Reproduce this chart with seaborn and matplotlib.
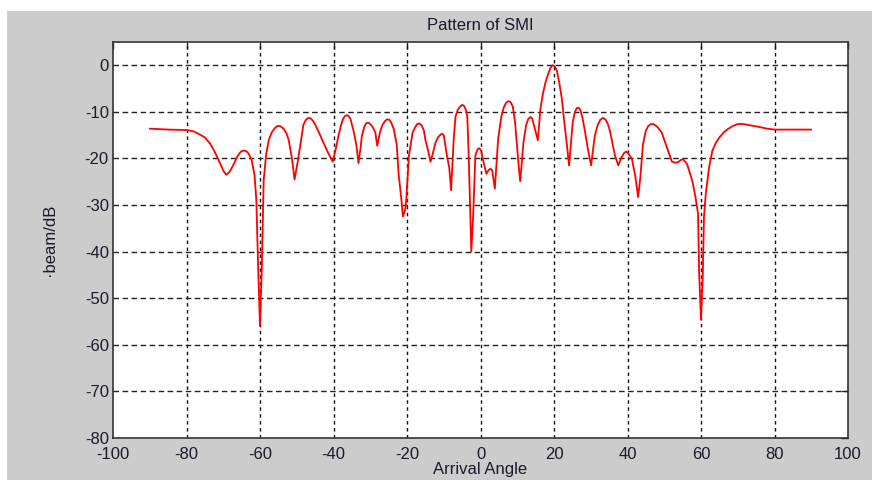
import matplotlib
matplotlib.use("Agg")
import matplotlib.pyplot as plt
import seaborn as sns
import pandas as pd
from matplotlib.patches import Rectangle

# ---- data ----
angles = [
    -90, -85, -80, -78, -76.5, -75, -73.5, -72.5, -71.7, -70.8, -70.0, -69.2, -68.4, -67.8, -67.0,
    -66.3, -65.6, -65.0, -64.3, -63.6, -63.0, -62.3,
    -61.5, -61, -60.5, -60, -59.5, -59, -58.3, -57.6, -56.8, -56.0, -55.2, -54.4, -53.6, -52.8,
    -52.2, -51.3, -50.6,
    -49.8, -49, -48.2, -47.6, -46.9, -46.2, -45.5, -45, -44.1, -42.8, -41.4, -40.2, -39.4, -38.7,
    -38.0, -37.4, -36.9, -36.4, -35.9, -35.4, -34.6, -33.8, -33.2, -32.6, -32.3, -31.7, -31.2,
    -30.6, -30, -29.3, -28.6, -28.1, -27.4, -26.7, -26.0, -25.4, -24.8, -24.3, -23.6, -22.8,
    -22.3, -21.5, -21.1, -20.5, -20.2, -19.5, -18.5, -17.8, -17.2, -16.6, -16.0, -15.4, -15,
    -14.2, -13.6, -13, -12.2, -11.5, -10.9, -10.4, -10, -9.1, -8.5, -8.0, -7.3, -6.8, -6.2, -5.6,
    -5.0, -4.5, -4.0, -3.6, -3.2, -2.5, -2.0, -1.4, -0.8, -0.3, 0.2, 0.6, 1.6, 2.2, 2.7, 3.2,
    3.9, 4.8, 5.7, 6.4, 7.0, 7.6, 8.2, 8.8, 9.4, 10.3, 10.8, 11.7, 12.4, 13.0, 13.6, 14.1, 14.9,
    15.6, 16.3, 17, 17.7, 18.4, 19.0, 19.6, 20.2, 20.8, 21.4, 22.1, 22.8, 23.5, 24.1, 25.1, 25.7,
    26.2, 26.7, 27.2, 27.8, 28.5, 29.2, 30.1, 31.1, 31.9, 32.6, 33.3, 34.0, 34.6, 35.2, 36.6,
    37.5, 38.4, 39.1, 39.7, 40.3, 41.2, 42.1, 42.9, 43.5, 44.2, 45, 45.7, 46.4, 47.0, 47.6,
    48.2, 49.3, 50.7, 52.1, 53.0, 53.8, 54.5, 55.2, 56.2, 57.6, 58.5, 59.2, 59.5, 60, 60.5,
    60.8, 61.3, 62.2, 63.1, 64.0, 65, 66.2, 67.3, 68.5, 70, 71.5, 72.8, 75.6, 78, 80, 90,
]
beam_db = [
    -13.6, -13.8, -13.9, -14.2, -14.8, -15.5, -16.9, -18.3, -19.6, -21.2, -22.6, -23.5, -23.0,
    -22.2, -21.0, -19.8, -18.9, -18.4, -18.3, -18.5, -19.1, -20.3,
    -23.5, -28.9, -43.5, -56.0, -43.5, -24.6, -19.0, -16.0, -14.4, -13.5, -13.0, -13.1, -13.6,
    -14.6, -16.0, -20.0, -24.5,
    -21.0, -17.0, -12.8, -11.8, -11.3, -11.4, -12.0, -12.7, -14.2, -16.5, -18.9, -20.7, -18.0,
    -15.3, -13.0, -11.5, -10.9, -10.7, -10.9, -11.5, -13.9, -17.0, -21.0, -17.5, -15.3, -13.4,
    -12.5, -12.3, -12.6, -13.3, -14.5, -17.3, -14.5, -12.8, -12.0, -11.6, -11.7, -12.3, -13.7,
    -17.0, -23.2, -29.0, -32.5, -31.0, -28.9, -19.6, -14.5, -13.3, -12.6, -12.5, -12.9, -14.0,
    -16.0, -18.5, -20.7, -19.0, -16.5, -15.4, -14.9, -14.7, -15.0, -19.6, -22.0, -26.8, -16.0,
    -11.0, -9.6, -8.9, -8.5, -8.7, -9.5, -11.0, -19.6, -40.0, -32.3, -19.4, -18.0, -17.8, -18.4,
    -20.0, -23.3, -22.5, -22.2, -22.6, -26.5, -15.8, -10.8, -8.9, -8.0, -7.7, -7.9, -8.9, -12.2,
    -20.8, -24.9, -16.5, -12.9, -11.5, -11.1, -11.5, -14.0, -16.1, -9.3, -6.0, -3.6, -1.9, -0.6,
    0.0, -0.2, -1.2, -3.6, -7.0, -12.2, -17.0, -21.5, -12.2, -10.0, -9.2, -9.1, -9.6, -11.5,
    -14.5, -17.9, -21.5, -15.1, -12.8, -11.7, -11.3, -11.6, -12.5, -14.0, -19.4, -21.5, -19.7,
    -18.8, -18.5, -19.0, -20.1, -23.7, -28.3, -24.0, -17.0, -14.0, -13.0, -12.6, -12.6, -12.9,
    -13.3, -14.4, -17.6, -20.7, -20.9, -20.8, -20.3, -20.2, -21.2, -24.7, -28.3, -31.9, -44.7,
    -54.6, -44.7, -32.6, -27.6, -21.9, -18.3, -16.7, -15.5, -14.4, -13.7, -13.1, -12.6, -12.6,
    -12.8, -13.2, -13.6, -13.8, -13.8,
]
x_ticks = [-100, -80, -60, -40, -20, 0, 20, 40, 60, 80, 100]
y_ticks = [0, -10, -20, -30, -40, -50, -60, -70, -80]
title_text = "Pattern of SMI"
x_label = "Arrival Angle"
y_label = "\u00b7beam/dB"

df = pd.DataFrame({"angle": angles, "beam": beam_db})

sns.set_style("white")
plt.rcParams["font.family"] = ["Liberation Sans", "DejaVu Sans"]

W, H, DPI = 872, 480, 100
fig = plt.figure(figsize=(W / DPI, H / DPI), dpi=DPI)
fig.patch.set_facecolor("white")
gray = "#cccccc"
fig.patches.append(Rectangle((7 / W, 0), 1 - 7 / W, 1 - 11 / H, transform=fig.transFigure,
                             facecolor=gray, edgecolor="none", zorder=-10))

ax = fig.add_axes([113 / W, 1 - 438 / H, (848 - 113) / W, (438 - 42) / H])
ax.set_facecolor("white")

sns.lineplot(data=df, x="angle", y="beam", ax=ax, color="#ff0000", linewidth=1.3,
             estimator=None, sort=False, zorder=3)

ax.set_xlim(-100, 100)
ax.set_ylim(-80, 5)
ax.set_xticks(x_ticks)
ax.set_yticks(y_ticks)
ax.set_xticklabels([str(t) for t in x_ticks])
ax.set_yticklabels([str(t) for t in y_ticks])

fs = 12
ax.tick_params(axis="both", direction="in", length=5, width=1, colors="#222222",
               labelsize=fs, labelcolor="#1a1a2a", top=True, right=True, pad=3)
ax.tick_params(axis="x", pad=6.5)

for v in x_ticks[1:-1]:
    ax.axvline(v, color="#111111", linestyle=(0, (2.5, 2.5)), linewidth=1.0, zorder=1)
for v in y_ticks[:-1]:
    ax.axhline(v, color="#222222", linestyle=(0, (4, 2.5)), linewidth=1.0, zorder=1)

for s in ax.spines.values():
    s.set_color("#333333")
    s.set_linewidth(1.2)
    s.set_visible(True)

ax.set_title(title_text, fontsize=fs, color="#1a1a2a", pad=9)
ax.set_xlabel(x_label, fontsize=fs, color="#1a1a2a", labelpad=0)
ax.set_ylabel(y_label, fontsize=fs, color="#1a1a2a", labelpad=20)

fig.savefig("out.png", dpi=DPI, facecolor=fig.get_facecolor())
